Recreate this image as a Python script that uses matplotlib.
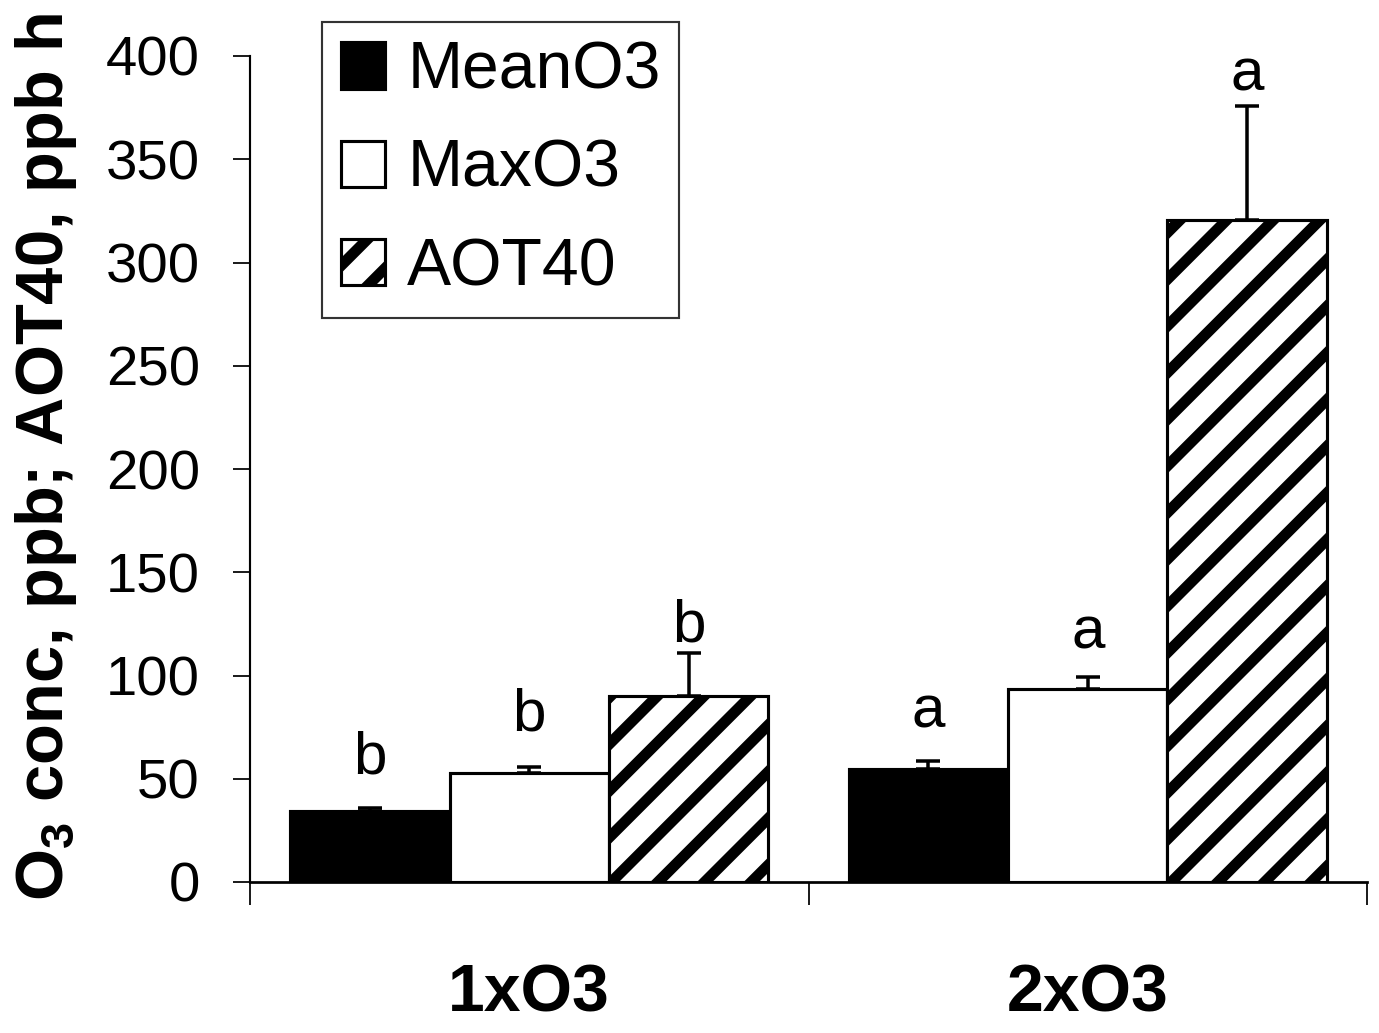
import matplotlib
matplotlib.use("Agg")
import matplotlib.pyplot as plt
import numpy as np

# ---- data ----
categories = ["1xO3", "2xO3"]
series_names = ["MeanO3", "MaxO3", "AOT40"]
mean_o3 = [34.5, 54.7]
max_o3 = [52.8, 93.5]
aot40 = [90.3, 320.6]
mean_o3_err = [1.2, 3.9]
max_o3_err = [3.0, 5.8]
aot40_err = [20.6, 55.0]
mean_o3_letters = ["b", "a"]
max_o3_letters = ["b", "a"]
aot40_letters = ["b", "a"]
mean_o3_letter_y = [52.5, 74.6]
max_o3_letter_y = [73.6, 113.3]
aot40_letter_y = [116.7, 383.5]
y_ticks = [0, 50, 100, 150, 200, 250, 300, 350, 400]

DPI = 280
plt.rcParams["font.family"] = ["Liberation Sans", "DejaVu Sans"]
plt.rcParams["hatch.linewidth"] = 2.8
plt.rcParams["mathtext.fontset"] = "custom"
plt.rcParams["mathtext.rm"] = "Liberation Sans"
plt.rcParams["mathtext.bf"] = "Liberation Sans:bold"

fig = plt.figure(figsize=(1379 / DPI, 1033 / DPI), dpi=DPI)
ax = fig.add_axes([250 / 1379, 1 - 882 / 1033, (1367 - 250) / 1379, (882 - 56) / 1033])

x = np.arange(len(categories))
w = 0.2855
styles = [
    dict(facecolor="black", hatch=None),
    dict(facecolor="white", hatch=None),
    dict(facecolor="white", hatch="//"),
]
values = [mean_o3, max_o3, aot40]
errs = [mean_o3_err, max_o3_err, aot40_err]
letters = [mean_o3_letters, max_o3_letters, aot40_letters]
letter_ys = [mean_o3_letter_y, max_o3_letter_y, aot40_letter_y]

for i, (name, vals, er, st, lets, lys) in enumerate(
        zip(series_names, values, errs, styles, letters, letter_ys)):
    xs = x + (i - 1) * w
    ax.bar(xs, vals, width=w, facecolor=st["facecolor"], edgecolor="black",
           linewidth=0.8, hatch=st["hatch"], label=name, zorder=2)
    ax.errorbar(xs, vals, yerr=[np.zeros(len(er)), er], fmt="none",
                ecolor="black", elinewidth=0.9, capsize=3.2, capthick=0.9,
                zorder=3)
    for xx, lab, ly in zip(xs, lets, lys):
        ax.text(xx, ly, lab, ha="center", va="baseline", fontsize=15.5)

ax.set_xlim(-0.5, 1.5)
ax.set_ylim(0, 400)
ax.set_yticks(y_ticks)
ax.set_yticklabels([str(t) for t in y_ticks])
ax.tick_params(axis="y", direction="out", length=4.4, width=0.45,
               labelsize=14.5, pad=8.5)

ax.set_xticks([-0.5, 0.5, 1.5])
ax.set_xticklabels([])
ax.set_xticks(x, minor=True)
ax.set_xticklabels(categories, minor=True, fontsize=17, fontweight="bold")
ax.tick_params(axis="x", which="major", direction="out", length=6, width=0.45)
ax.tick_params(axis="x", which="minor", length=0, pad=21)

for s in ["top", "right"]:
    ax.spines[s].set_visible(False)
ax.spines["left"].set_linewidth(0.55)
ax.spines["bottom"].set_linewidth(0.7)

fig.text(46 / 1379, 1 - 457 / 1033, r"O$_\mathbf{3}$ conc, ppb; AOT40, ppb h",
         rotation=90, ha="center", va="center", fontsize=17.2, fontweight="bold")

leg = ax.legend(loc="upper left", bbox_to_anchor=(322 / 1379, 1 - 22 / 1033),
                bbox_transform=fig.transFigure, fontsize=17, frameon=True,
                fancybox=False, shadow=False, handlelength=0.68,
                handleheight=0.7, handletextpad=0.33, labelspacing=0.55,
                borderpad=0.28, borderaxespad=0)
leg.get_frame().set_edgecolor("black")
leg.get_frame().set_linewidth(0.55)

fig.savefig("out.png", dpi=DPI)
